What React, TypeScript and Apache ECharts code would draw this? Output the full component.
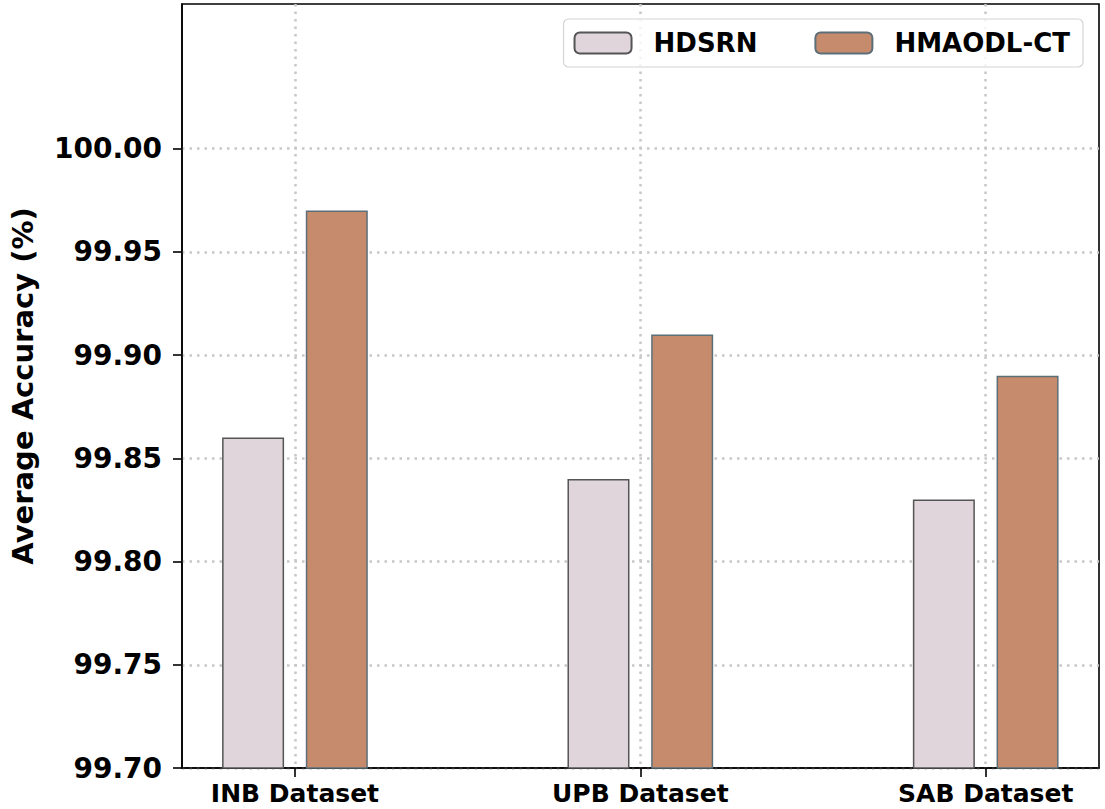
import React, { useEffect, useRef } from "react";
import * as echarts from "echarts";

const categories = ["INB Dataset", "UPB Dataset", "SAB Dataset"];
const seriesNames = ["HDSRN", "HMAODL-CT"];
const hdsrn = [99.86, 99.84, 99.83];
const hmaodl = [99.97, 99.91, 99.89];
const yTicks = [99.7, 99.75, 99.8, 99.85, 99.9, 99.95, 100.0];
const xPositions = [0, 1, 2];

const FONT = "DejaVu Sans";

export default function App() {
  const ref = useRef<HTMLDivElement>(null);
  useEffect(() => {
    if (!ref.current) return;
    const chart = echarts.init(ref.current, null, { renderer: "svg" });
    const dotted = { color: "#c8c8c8", type: [2.5, 5] as any, width: 2.5 };
    chart.setOption({
      animation: false,
      backgroundColor: "#ffffff",
      grid: {
        left: 177,
        right: 6,
        top: 4,
        bottom: 41,
        show: true,
        borderColor: "#000",
        borderWidth: 1.6,
        backgroundColor: "transparent",
      },
      legend: {
        top: 19,
        right: 22,
        itemWidth: 57,
        itemHeight: 21,
        itemGap: 57,
        padding: [11, 13, 11, 10],
        borderColor: "#d4d4d4",
        borderWidth: 1.2,
        borderRadius: 5,
        backgroundColor: "rgba(255,255,255,0.8)",
        textStyle: {
          fontFamily: FONT,
          fontWeight: "bold",
          fontSize: 26,
          lineHeight: 26,
          color: "#000",
          padding: [0, 0, 0, 17],
        },
        data: seriesNames,
      },
      xAxis: {
        type: "value",
        min: -0.327,
        max: 2.328,
        axisLine: { show: true, onZero: false, lineStyle: { color: "#000", width: 1.6 } },
        axisTick: { show: true, length: 9, lineStyle: { color: "#000", width: 1.6 }, customValues: xPositions },
        axisLabel: {
          customValues: xPositions,
          formatter: (v: number) => categories[Math.round(v)] ?? "",
          fontFamily: FONT,
          fontWeight: "bold",
          fontSize: 25,
          lineHeight: 25,
          color: "#000",
          margin: 13,
        },
        splitLine: { show: true, lineStyle: dotted },
      },
      yAxis: {
        type: "value",
        min: 99.7,
        max: 100.07,
        name: "Average Accuracy (%)",
        nameLocation: "middle",
        nameGap: 145,
        nameTextStyle: { fontFamily: FONT, fontWeight: "bold", fontSize: 29, color: "#000" },
        axisLine: { show: true, onZero: false, lineStyle: { color: "#000", width: 1.6 } },
        axisTick: { show: true, length: 9, lineStyle: { color: "#000", width: 1.6 }, customValues: yTicks },
        axisLabel: {
          customValues: yTicks,
          formatter: (v: number) => v.toFixed(2),
          fontFamily: FONT,
          fontWeight: "bold",
          fontSize: 28,
          color: "#000",
          margin: 20,
        },
        splitLine: { show: true, lineStyle: dotted },
      },
      series: [
        {
          name: seriesNames[0],
          type: "bar",
          barWidth: 62,
          barGap: "35%",
          data: xPositions.map((x, i) => [x, hdsrn[i]]),
          itemStyle: { color: "#dfd5da", borderColor: "#555555", borderWidth: 1.5 },
        },
        {
          name: seriesNames[1],
          type: "bar",
          barWidth: 62,
          barGap: "35%",
          data: xPositions.map((x, i) => [x, hmaodl[i]]),
          itemStyle: { color: "#c68a6c", borderColor: "#5c6f78", borderWidth: 1.5 },
        },
      ],
    });
    return () => chart.dispose();
  }, []);
  return (
    <div
      ref={ref}
      style={{ position: "fixed", left: 0, top: 0, width: "1105px", height: "809px" }}
    />
  );
}
